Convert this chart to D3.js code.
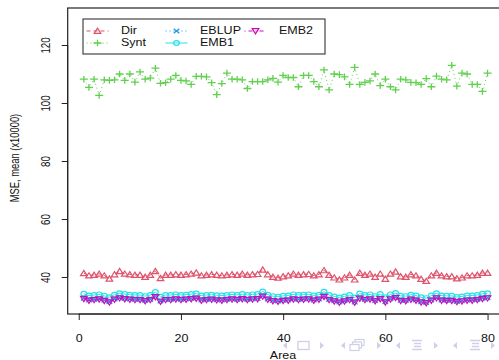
<!DOCTYPE html>
<html><head><meta charset="utf-8">
<script src="https://cdn.jsdelivr.net/npm/d3@7"></script>
<style>body{margin:0;background:#fff}svg{display:block}text{font-family:"Liberation Sans",Arial,Helvetica,sans-serif;fill:#111}</style>
</head><body><svg id="c" width="499" height="360"></svg>
<script>
const seriesNames = ["Dir", "Synt", "EBLUP", "EMB1", "EMB2"];
const xTicks = [0, 20, 40, 60, 80];
const yTicks = [40, 60, 80, 100, 120];
const xLabel = "Area";
const yLabel = "MSE, mean (x10000)";

const dir = [41.3,40.5,40.7,41.1,40.5,39.4,40.9,42.0,41.1,40.9,40.7,40.7,40.0,40.7,42.0,39.6,40.7,40.7,40.9,40.7,
  40.9,41.1,41.5,40.5,40.7,40.9,40.7,40.5,40.7,40.9,40.7,41.1,40.7,40.9,41.0,42.5,40.9,40.0,39.7,40.2,
  40.5,41.1,40.7,40.9,41.0,40.5,40.9,42.3,40.7,39.8,39.1,39.8,40.7,39.1,41.4,40.7,41.1,40.0,41.1,39.3,
  41.1,41.8,40.2,40.0,40.9,40.5,39.3,38.6,40.5,41.4,40.5,40.2,40.2,39.5,39.8,40.5,40.5,40.7,41.4,41.4];
const synt = [108.2,105.4,108.2,102.6,108.0,107.8,108.0,110.0,107.8,110.0,107.2,110.7,108.2,108.6,112.0,106.8,107.0,108.2,109.5,107.8,
  107.6,106.4,109.2,109.2,109.0,107.0,102.9,106.7,110.3,108.2,108.2,108.0,105.0,107.4,107.4,107.4,108.0,108.5,107.2,109.5,
  108.8,108.8,105.6,109.5,109.5,107.4,105.6,111.4,104.5,110.0,109.8,109.0,106.4,112.3,106.4,107.1,107.6,110.0,106.0,108.2,
  105.6,104.5,108.2,108.0,107.1,107.0,106.4,108.4,105.6,109.3,108.2,108.0,113.0,105.8,110.3,110.0,106.4,106.4,104.0,110.3];
const eblup = [32.7,32.1,32.3,32.5,32.0,31.5,32.4,32.9,32.6,32.4,32.3,32.3,31.9,32.3,33.3,31.7,32.3,32.3,32.5,32.3,
  32.4,32.6,32.8,32.1,32.3,32.4,32.2,32.1,32.3,32.5,32.3,32.6,32.3,32.5,32.6,33.5,32.4,31.9,31.7,32.0,
  32.1,32.5,32.3,32.4,32.5,32.1,32.4,33.4,32.3,31.8,31.4,31.8,32.3,31.4,32.8,32.3,32.5,31.9,32.6,31.5,
  32.5,33.0,32.0,31.9,32.4,32.1,31.5,31.2,32.1,32.9,32.1,32.0,32.0,31.6,31.8,32.1,32.1,32.3,32.7,32.9];
const emb1 = [34.2,33.6,33.8,34.0,33.5,33.0,33.9,34.4,34.1,33.9,33.8,33.8,33.4,33.8,34.8,33.2,33.8,33.8,34.0,33.8,
  33.9,34.1,34.3,33.6,33.8,33.9,33.7,33.6,33.8,34.0,33.8,34.1,33.8,34.0,34.1,35.0,33.9,33.4,33.2,33.5,
  33.6,34.0,33.8,33.9,34.0,33.6,33.9,34.9,33.8,33.3,32.9,33.3,33.8,32.9,34.3,33.8,34.0,33.4,34.1,33.0,
  34.0,34.5,33.5,33.4,33.9,33.6,33.0,32.7,33.6,34.4,33.6,33.5,33.5,33.1,33.3,33.6,33.6,33.8,34.2,34.4];
const emb2 = [32.5,31.9,32.1,32.3,31.8,31.3,32.2,32.7,32.4,32.2,32.1,32.1,31.7,32.1,33.1,31.5,32.1,32.1,32.3,32.1,
  32.2,32.4,32.6,31.9,32.1,32.2,32.0,31.9,32.1,32.3,32.1,32.4,32.1,32.3,32.4,33.3,32.2,31.7,31.5,31.8,
  31.9,32.3,32.1,32.2,32.3,31.9,32.2,33.2,32.1,31.6,31.2,31.6,32.1,31.2,32.6,32.1,32.3,31.7,32.4,31.3,
  32.3,32.8,31.8,31.7,32.2,31.9,31.3,31.0,31.9,32.7,31.9,31.8,31.8,31.4,31.6,31.9,31.9,32.1,32.5,32.7];
const areas = dir.map((d, i) => i + 1);

const styles = {
  Dir:   {values: dir,   color: "#DF536B", dash: "4,3",     shape: "tri"},
  Synt:  {values: synt,  color: "#61D04F", dash: "1,3",     shape: "plus"},
  EBLUP: {values: eblup, color: "#2297E6", dash: "1,3",     shape: "cross"},
  EMB1:  {values: emb1,  color: "#28E2E5", dash: null,      shape: "circle"},
  EMB2:  {values: emb2,  color: "#CD0BBC", dash: "1,3,4,3", shape: "dtri"}
};

const svg = d3.select("#c");
const x = d3.scaleLinear().domain([-2.16, 83.16]).range([67.7, 503.7]);
const y = d3.scaleLinear().domain([27.24, 132.76]).range([314, 8]);

function marker(g, shape, cx, cy, color) {
  if (shape === "tri") {
    g.append("path").attr("d", `M${cx-3.3},${cy+2.4}L${cx+3.3},${cy+2.4}L${cx},${cy-2.8}Z`)
      .attr("fill", "none").attr("stroke", color).attr("stroke-width", 1.2);
  } else if (shape === "dtri") {
    g.append("path").attr("d", `M${cx-3.3},${cy-2.4}L${cx+3.3},${cy-2.4}L${cx},${cy+2.8}Z`)
      .attr("fill", "none").attr("stroke", color).attr("stroke-width", 1.2);
  } else if (shape === "plus") {
    g.append("path").attr("d", `M${cx-4},${cy}H${cx+4}M${cx},${cy-3.3}V${cy+3.3}`)
      .attr("stroke", color).attr("stroke-width", 1.3);
  } else if (shape === "cross") {
    g.append("path").attr("d", `M${cx-2.8},${cy-2.3}L${cx+2.8},${cy+2.3}M${cx-2.8},${cy+2.3}L${cx+2.8},${cy-2.3}`)
      .attr("stroke", color).attr("stroke-width", 1.3);
  } else if (shape === "circle") {
    g.append("ellipse").attr("cx", cx).attr("cy", cy).attr("rx", 2.9).attr("ry", 2.4)
      .attr("fill", "none").attr("stroke", color).attr("stroke-width", 1.2);
  }
}

// series
const plot = svg.append("g");
seriesNames.forEach(name => {
  const s = styles[name];
  const line = d3.line().x((d, i) => x(areas[i])).y(d => y(d));
  const p = plot.append("path").attr("d", line(s.values)).attr("fill", "none")
    .attr("stroke", s.color).attr("stroke-width", 1);
  if (s.dash) p.attr("stroke-dasharray", s.dash);
  const mg = plot.append("g");
  s.values.forEach((v, i) => marker(mg, s.shape, x(areas[i]), y(v), s.color));
});

// box
svg.append("rect").attr("x", 67.7).attr("y", 8).attr("width", 436).attr("height", 306)
  .attr("fill", "none").attr("stroke", "#222").attr("stroke-width", 1.2);

// axes
const xAxis = svg.append("g").attr("transform", "translate(0,314)")
  .call(d3.axisBottom(x).tickValues(xTicks).tickSize(6).tickFormat(d3.format("d")));
xAxis.select(".domain").attr("d", `M${x(0)},0H${x(80)}`).attr("stroke", "#222");
xAxis.selectAll(".tick line").attr("stroke", "#222");
xAxis.selectAll(".tick text").attr("y", 0).attr("dy", null)
  .attr("transform", "translate(0,25) scale(1,0.8)").attr("font-size", 12.5).attr("fill", "#111")
  .attr("dominant-baseline", "middle");

const yAxis = svg.append("g").attr("transform", "translate(67.7,0)")
  .call(d3.axisLeft(y).tickValues(yTicks).tickSize(6).tickFormat(d3.format("d")));
yAxis.select(".domain").attr("d", `M0,${y(40)}V${y(120)}`).attr("stroke", "#222");
yAxis.selectAll(".tick line").attr("stroke", "#222");
yAxis.selectAll(".tick text").attr("x", 0).attr("dy", null).attr("text-anchor", "middle")
  .attr("transform", "translate(-20.5,0) rotate(-90) scale(0.78,1)").attr("font-size", 12.5).attr("fill", "#111")
  .attr("dominant-baseline", "middle");

svg.append("text").attr("transform", "translate(283,356) scale(1,0.8)").attr("text-anchor", "middle")
  .attr("dominant-baseline", "middle").attr("font-size", 12.5).text(xLabel);
svg.append("text").attr("transform", "translate(16,158) rotate(-90) scale(0.75,1)").attr("text-anchor", "middle")
  .attr("dominant-baseline", "middle").attr("font-size", 12.5).text(yLabel);

// legend
const lg = svg.append("g");
lg.append("rect").attr("x", 83).attr("y", 19).attr("width", 242).attr("height", 35)
  .attr("fill", "#fff").attr("stroke", "#444").attr("stroke-width", 1.2);
const legendPos = {
  Dir: [97.5, 31], Synt: [97.5, 43], EBLUP: [176.5, 31], EMB1: [176.5, 43], EMB2: [255.5, 31]
};
seriesNames.forEach(name => {
  const s = styles[name];
  const [mx, my] = legendPos[name];
  const l = lg.append("path").attr("d", `M${mx-11},${my}H${mx+11}`).attr("stroke", s.color).attr("stroke-width", 1);
  if (s.dash) l.attr("stroke-dasharray", s.dash);
  marker(lg, s.shape, mx, my, s.color);
  lg.append("text").attr("transform", `translate(${mx+23.5},${my}) scale(1,0.85)`)
    .attr("dominant-baseline", "middle").attr("font-size", 12.5).text(name);
});

// beamer navigation symbols
const nav = svg.append("g").attr("fill", "#cfcfe8").attr("stroke", "#cfcfe8");
[[285, 322], [343, 379], [398, 436], [455, 493]].forEach(([l, r]) => {
  nav.append("path").attr("d", `M${l+2},342L${l-2},345.5L${l+2},349Z`).attr("stroke", "none");
  nav.append("path").attr("d", `M${r-2},342L${r+2},345.5L${r-2},349Z`).attr("stroke", "none");
});
nav.append("rect").attr("x", 298).attr("y", 341.5).attr("width", 11).attr("height", 8).attr("fill", "none").attr("stroke-width", 1.3);
nav.append("rect").attr("x", 355).attr("y", 339.5).attr("width", 9).attr("height", 6).attr("fill", "#fff").attr("stroke-width", 1.2);
nav.append("rect").attr("x", 352.5).attr("y", 342).attr("width", 9).attr("height", 6).attr("fill", "#fff").attr("stroke-width", 1.2);
nav.append("rect").attr("x", 350).attr("y", 344.5).attr("width", 9).attr("height", 6).attr("fill", "#fff").attr("stroke-width", 1.2);
[417, 475].forEach(cx => {
  nav.append("path").attr("d", `M${cx-5},340.5H${cx+5}M${cx-3},343.5H${cx+4}M${cx-3},346.5H${cx+4}M${cx-5},349.5H${cx+5}`)
    .attr("fill", "none").attr("stroke-width", 1.4);
});
</script></body></html>
